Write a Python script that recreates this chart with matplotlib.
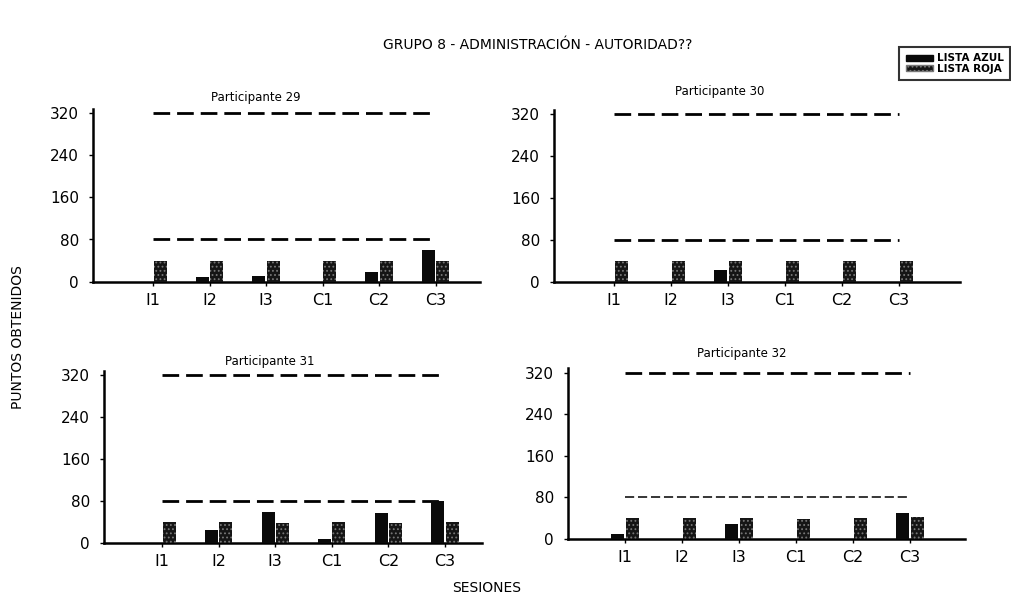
import matplotlib
matplotlib.use("Agg")
import matplotlib.pyplot as plt
from matplotlib.patches import Patch
import numpy as np

plt.rcParams['font.family'] = ['DejaVu Sans']
plt.rcParams['hatch.linewidth'] = 0.8

sessions = ["I1", "I2", "I3", "C1", "C2", "C3"]
participants = ["Participante 29", "Participante 30", "Participante 31", "Participante 32"]
lista_azul = [
    [0, 8, 10, 0, 18, 60],
    [0, 0, 22, 0, 0, 0],
    [0, 26, 59, 8, 57, 80],
    [10, 0, 28, 0, 0, 50],
]
lista_roja = [
    [40, 40, 40, 40, 40, 40],
    [40, 40, 40, 40, 40, 40],
    [40, 40, 38, 40, 39, 40],
    [40, 40, 40, 38, 40, 42],
]
ref_high = [320, 320, 320, 320]
ref_low = [80, 80, 80, 80]
yticks = [0, 80, 160, 240, 320]

W, H = 1012, 594
fig = plt.figure(figsize=(W / 100, H / 100), dpi=100)

# layout in pixels: left spine, first category centre, category spacing, right end, baseline, px per 80
layout = [
    (93, 153, 56.5, 480, 281.7, 42.2),
    (554, 614, 57.0, 960, 282.0, 42.0),
    (104, 162, 56.6, 482, 543.3, 42.1),
    (568, 625, 57.0, 965, 539.0, 41.6),
]
title_pos = [(256, 97), (720, 92), (270, 362), (742, 354)]
low_lw = [2.0, 2.0, 2.0, 1.1]
ytop = 328

for k in range(4):
    lpx, c0, sp, rpx, base, p80 = layout[k]
    ppu = p80 / 80.0
    top = base - ytop * ppu
    ax = fig.add_axes([lpx / W, 1 - base / H, (rpx - lpx) / W, (base - top) / H])
    x = np.arange(len(sessions))
    ax.set_xlim(-(c0 - lpx) / sp, (rpx - c0) / sp)
    ax.set_ylim(0, ytop)
    bw = 0.23
    ax.bar(x - 0.125, lista_azul[k], width=bw, color='#0a0a0a', linewidth=0, zorder=3)
    ax.bar(x + 0.125, lista_roja[k], width=bw, color='#151515', edgecolor='#777777',
           hatch='....', linewidth=0, zorder=3)
    ax.plot(x, [ref_high[k]] * len(x), color='black', lw=2.0, linestyle=(0, (6, 2.5)),
            zorder=2, dash_capstyle='butt')
    ax.plot(x, [ref_low[k]] * len(x), color='black', lw=low_lw[k], linestyle=(0, (6, 2.5)),
            zorder=2, dash_capstyle='butt')
    for s in ['top', 'right']:
        ax.spines[s].set_visible(False)
    for s in ['left', 'bottom']:
        ax.spines[s].set_linewidth(1.8)
    ax.set_yticks(yticks)
    ax.set_yticklabels([str(v) for v in yticks], fontsize=11)
    ax.set_xticks(x)
    ax.set_xticklabels(sessions, fontsize=11.5)
    ax.tick_params(axis='y', length=3, width=1, pad=7)
    ax.tick_params(axis='x', length=3, width=1, pad=5)
    tx, ty = title_pos[k]
    fig.text(tx / W, 1 - ty / H, participants[k], ha='center', va='center', fontsize=8.5)

fig.text(538 / W, 1 - 45 / H, "GRUPO 8 - ADMINISTRACIÓN - AUTORIDAD??", ha='center',
         va='center', fontsize=10)
fig.text(18 / W, 1 - 337 / H, "PUNTOS OBTENIDOS", rotation=90, ha='center', va='center',
         fontsize=10)
fig.text(487 / W, 1 - 588 / H, "SESIONES", ha='center', va='center', fontsize=10)

handles = [Patch(facecolor='#0a0a0a', edgecolor='#0a0a0a', label='LISTA AZUL'),
           Patch(facecolor='#151515', edgecolor='#777777', hatch='....', label='LISTA ROJA')]
leg = fig.legend(handles=handles, loc='upper right', bbox_to_anchor=(1010 / W, 1 - 47 / H),
                 fontsize=7.5, frameon=True, fancybox=False, edgecolor='black',
                 handlelength=2.6, handleheight=0.5, handletextpad=0.4, labelspacing=0.05,
                 borderpad=0.6, borderaxespad=0, prop={'weight': 'bold', 'size': 7.5})
leg.get_frame().set_linewidth(1.5)

fig.savefig("out.png", dpi=100)
